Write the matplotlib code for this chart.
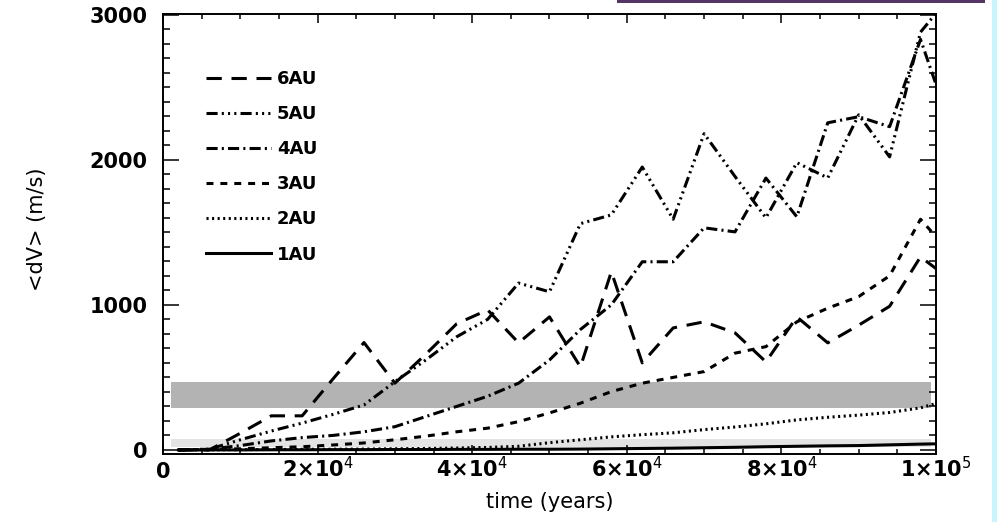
import matplotlib
matplotlib.use("Agg")
from matplotlib import pyplot as plt
from matplotlib.patches import Rectangle

# sample times (years) and mean velocity dispersion <dV> (m/s) per orbit
t = [2000, 6000, 10000, 14000, 18000, 22000, 26000, 30000, 34000, 38000,
     42000, 46000, 50000, 54000, 58000, 62000, 66000, 70000, 74000, 78000,
     82000, 86000, 90000, 94000, 98000, 100000]
au6 = [0, 0, 115, 235, 235, 490, 740, 460, 660, 870, 965, 738, 917, 572,
       1228, 600, 841, 883, 807, 607, 917, 738, 860, 990, 1331, 1250]
au5 = [0, 5, 70, 130, 185, 245, 310, 470, 620, 780, 900, 1150, 1090, 1560,
       1620, 1950, 1590, 2180, 1885, 1600, 1980, 1875, 2310, 2020, 2880, 3010]
au4 = [0, 5, 30, 62, 85, 100, 125, 160, 230, 300, 370, 460, 620, 830,
       1000, 1297, 1297, 1531, 1503, 1874, 1607, 2255, 2297, 2228, 2830, 2520]
au3 = [0, 3, 8, 15, 22, 34, 48, 70, 95, 125, 150, 195, 255, 322, 402, 460,
       500, 540, 667, 712, 883, 977, 1057, 1200, 1590, 1470]
au2 = [0, 1, 2, 3, 4, 5, 6, 8, 10, 13, 17, 25, 50, 70, 90, 105, 118, 140,
       158, 180, 207, 225, 240, 258, 290, 320]
au1 = [0, 0, 0, 1, 1, 2, 2, 3, 3, 4, 4, 5, 5, 6, 8, 10, 12, 15, 18, 22, 25,
       28, 30, 35, 40, 42]

# shaded reference bands: [t_start, t_end], [low, high]
band_t = [1000, 99300]
dark_band = [290, 470]
light_band = [20, 75]

xticks = [0, 20000, 40000, 60000, 80000, 100000]
xticklabels = ["0", "2×10$^4$", "4×10$^4$", "6×10$^4$", "8×10$^4$", "1×10$^5$"]
yticks = [0, 1000, 2000, 3000]
yticklabels = ["0", "1000", "2000", "3000"]

plt.rcParams["lines.scale_dashes"] = False

fig = plt.figure(figsize=(9.97, 5.22), dpi=100)
ax = fig.add_axes([0.1635, 0.1303, 0.7753, 0.8429])

# grey bands behind the curves
ax.fill_between(band_t, light_band[0], light_band[1], color="#e3e3e3", lw=0, zorder=1)
ax.fill_between(band_t, dark_band[0], dark_band[1], color="#b3b3b3", lw=0, zorder=1)

lw = 2.2
series = [
    ("6AU", au6, (0, (11, 7))),
    ("5AU", au5, (0, (8, 3, 1.5, 3, 1.5, 3, 1.5, 3))),
    ("4AU", au4, (0, (8, 3, 1.5, 3))),
    ("3AU", au3, (0, (5, 5))),
    ("2AU", au2, (0, (1.5, 2.5))),
    ("1AU", au1, "-"),
]
for name, vals, ls in series:
    ax.plot(t, vals, color="black", lw=lw, ls=ls, label=name, zorder=2)

ax.set_xlim(0, 100000)
ax.set_ylim(-28, 3005)

ax.set_xticks(xticks)
ax.set_xticklabels(xticklabels)
ax.set_xticks(range(0, 100001, 5000), minor=True)
ax.set_yticks(yticks)
ax.set_yticklabels(yticklabels)
ax.set_yticks(range(0, 3001, 100), minor=True)

ax.tick_params(axis="both", which="both", direction="in", top=True, right=True,
               width=1.1, color="black")
ax.tick_params(axis="x", which="major", length=6.5, pad=17, labelsize=15)
ax.tick_params(axis="x", which="minor", length=3.5)
ax.tick_params(axis="y", which="major", length=11.5, pad=11, labelsize=15)
ax.tick_params(axis="y", which="minor", length=5)
for lbl in ax.get_xticklabels():
    lbl.set_verticalalignment("baseline")
    lbl.set_fontweight("bold")
for lbl in ax.get_yticklabels():
    lbl.set_fontweight("bold")
for sp in ax.spines.values():
    sp.set_linewidth(1.4)

ax.set_xlabel("time (years)", fontsize=15)
ax.set_ylabel("<dV> (m/s)", fontsize=15)
ax.xaxis.set_label_coords(0.5, -0.086)
ax.yaxis.set_label_coords(-0.15, 0.51)

leg = ax.legend(loc="upper left", bbox_to_anchor=(0.056, 0.873), frameon=False,
                handlelength=3.6, handletextpad=0.3,
                labelspacing=0.95, borderpad=0, borderaxespad=0,
                prop={"weight": "bold", "size": 13})

# slide decorations around the figure
fig.patches.append(Rectangle((0.619, 0.994), 0.369, 0.006, transform=fig.transFigure,
                             color="#553566", lw=0))
fig.patches.append(Rectangle((0.995, 0), 0.005, 1, transform=fig.transFigure,
                             color="#c8f6fc", lw=0))

fig.savefig("out.png", dpi=100)
